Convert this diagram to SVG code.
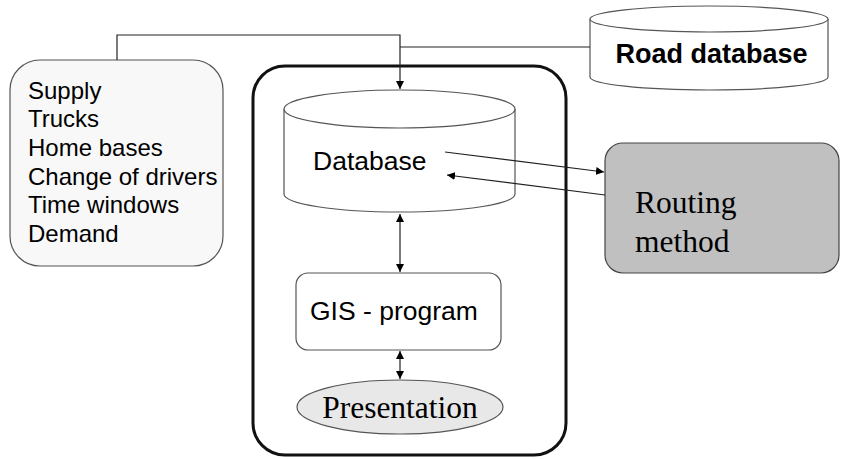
<svg xmlns="http://www.w3.org/2000/svg" width="841" height="459" viewBox="0 0 841 459">
  <style>
    .sans { font-family: "Liberation Sans", Arial, sans-serif; fill: #000; }
    .serif { font-family: "Liberation Serif", "Times New Roman", serif; fill: #000; }
    .thin { stroke: #555; stroke-width: 1.2; }
    .wire { fill: none; stroke: #222; stroke-width: 1.2; }
  </style>
  <defs>
    <marker id="arrow" viewBox="0 0 10 10" refX="10" refY="5" markerWidth="8" markerHeight="8" markerUnits="userSpaceOnUse" orient="auto-start-reverse">
      <path d="M0,0 L10,5 L0,10 z" fill="#000"/>
    </marker>
  </defs>

  <!-- system frame -->
  <g id="system">
    <rect x="253" y="66" width="313" height="389" rx="32" ry="32" fill="#fff" stroke="#111" stroke-width="3"/>
  </g>

  <!-- input data -->
  <g id="inputs">
    <rect x="10" y="60" width="213" height="206" rx="30" ry="30" fill="#f8f8f8" class="thin"/>
    <text class="sans" font-size="24" x="28" y="98.5">Supply</text>
    <text class="sans" font-size="24" x="28" y="127.2">Trucks</text>
    <text class="sans" font-size="24" x="28" y="155.9">Home bases</text>
    <text class="sans" font-size="24" x="28" y="184.6">Change of drivers</text>
    <text class="sans" font-size="24" x="28" y="213.3">Time windows</text>
    <text class="sans" font-size="24" x="28" y="242">Demand</text>
  </g>

  <!-- road database -->
  <g id="road-database">
    <path d="M590,19 L590,77 A119,13 0 0 0 828,77 L828,19" fill="#fff" class="thin"/>
    <ellipse cx="709" cy="19" rx="119" ry="13" fill="#fff" class="thin"/>
    <text class="sans" font-size="27" font-weight="bold" x="711.5" y="63" text-anchor="middle">Road database</text>
  </g>

  <!-- central database -->
  <g id="database">
    <path d="M284,109 L284,194 A115.5,18 0 0 0 515,194 L515,109" fill="#fff" class="thin"/>
    <ellipse cx="399.5" cy="109" rx="115.5" ry="19" fill="#fff" class="thin"/>
    <text class="sans" font-size="26.5" x="313" y="170">Database</text>
  </g>

  <!-- routing method -->
  <g id="routing">
    <rect x="605" y="143" width="234" height="130" rx="18" ry="18" fill="#c0c0c0" stroke="#444" stroke-width="1.2"/>
    <text class="serif" font-size="31.5" x="635" y="213">Routing</text>
    <text class="serif" font-size="31.5" x="635" y="252">method</text>
  </g>

  <!-- GIS program -->
  <g id="gis">
    <rect x="296" y="273" width="205" height="77" rx="12" ry="12" fill="#fff" class="thin"/>
    <text class="sans" font-size="26.5" x="310" y="320">GIS - program</text>
  </g>

  <!-- presentation -->
  <g id="presentation">
    <ellipse cx="400" cy="407" rx="103" ry="27" fill="#e8e8e8" class="thin"/>
    <text class="serif" font-size="31.5" x="400" y="418" text-anchor="middle">Presentation</text>
  </g>

  <!-- connectors -->
  <g id="connectors">
    <polyline class="wire" points="117,60 117,35 400,35 400,89" marker-end="url(#arrow)"/>
    <line class="wire" x1="400" y1="47" x2="590" y2="47"/>
    <line class="wire" x1="445" y1="152" x2="604" y2="172" marker-end="url(#arrow)"/>
    <line class="wire" x1="605" y1="195" x2="447" y2="175" marker-end="url(#arrow)"/>
    <line class="wire" x1="400" y1="214" x2="400" y2="272" marker-start="url(#arrow)" marker-end="url(#arrow)"/>
    <line class="wire" x1="400" y1="351" x2="400" y2="379" marker-start="url(#arrow)" marker-end="url(#arrow)"/>
  </g>
</svg>
